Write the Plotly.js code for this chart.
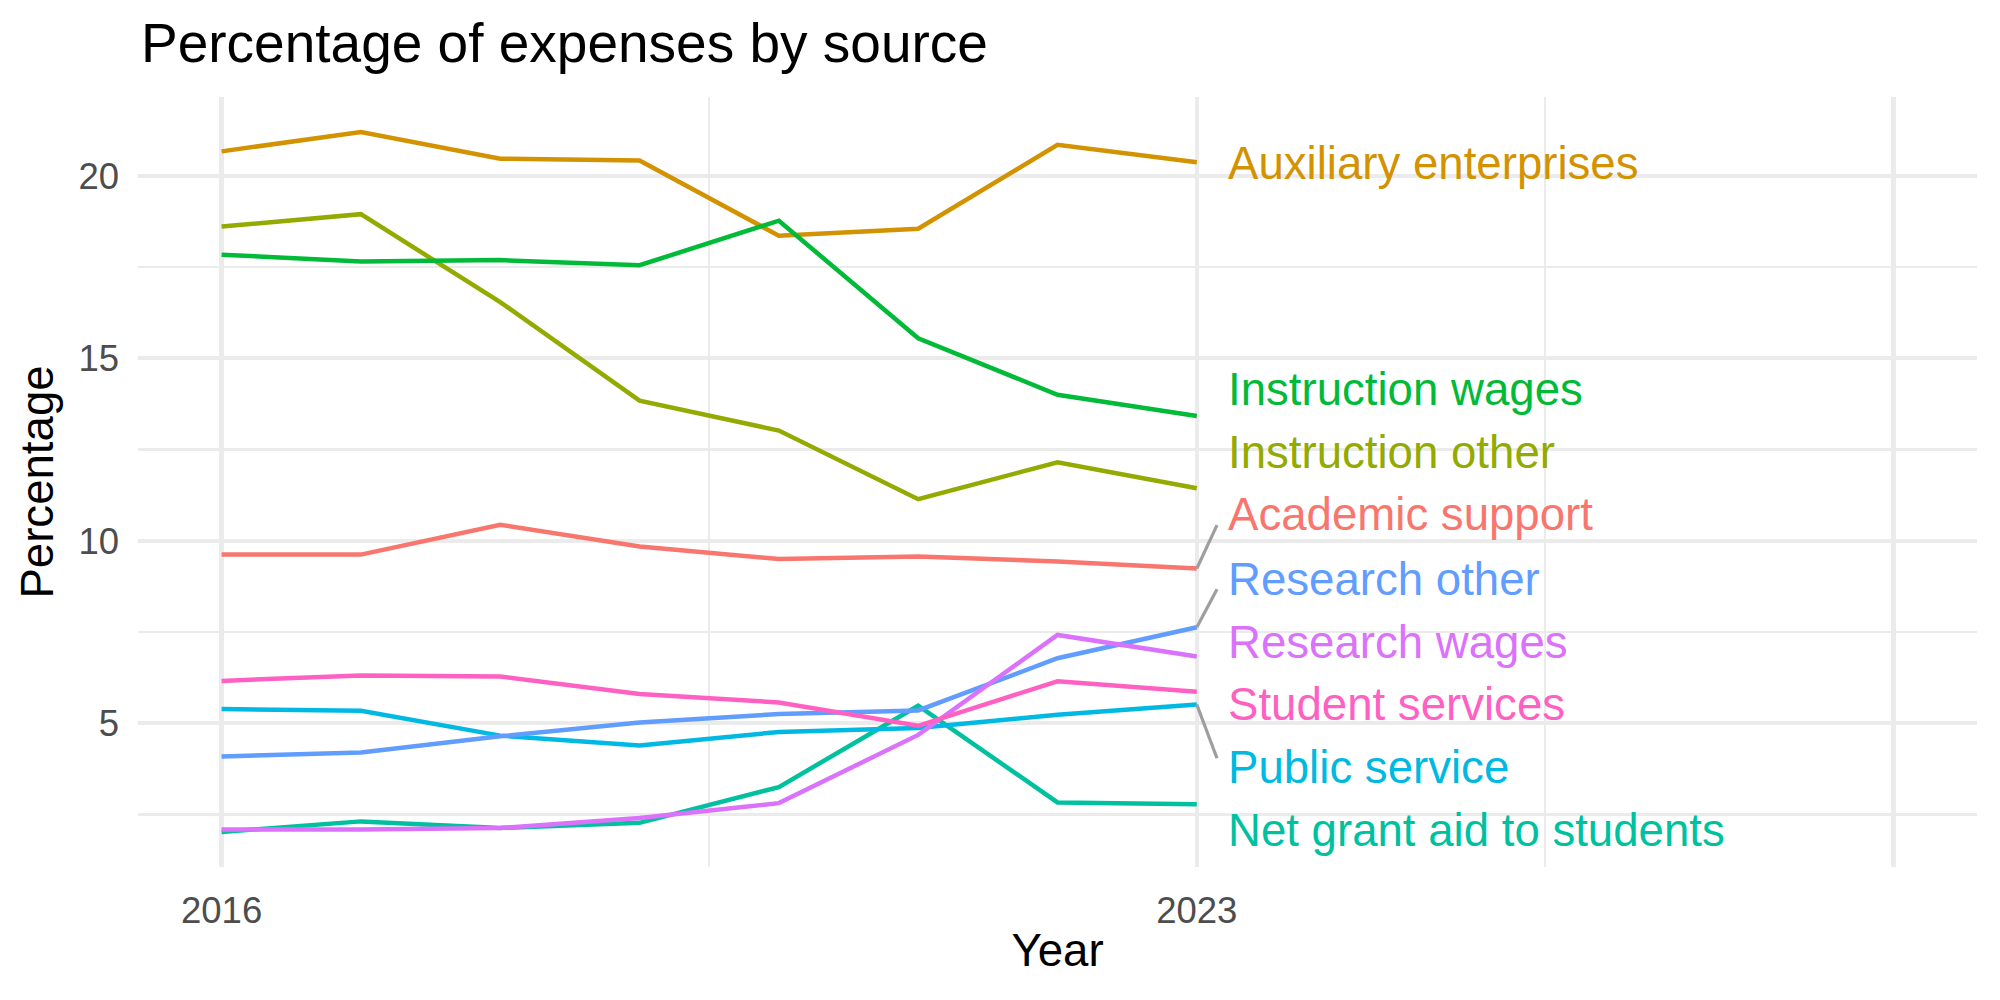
<!DOCTYPE html>
<html>
<head>
<meta charset="utf-8">
<script src="https://cdn.plot.ly/plotly-3.0.1.min.js"></script>
<style>
  html, body { margin: 0; padding: 0; background: #fff; }
  #chart { width: 2000px; height: 1000px; }
</style>
</head>
<body>
<div id="chart"></div>
<script>
// ---- data ----
const years = [2016, 2017, 2018, 2019, 2020, 2021, 2022, 2023];

const seriesNames = [
  "Academic support", "Auxiliary enterprises", "Instruction other", "Instruction wages",
  "Net grant aid to students", "Public service", "Research other", "Research wages", "Student services"
];

const academicSupport      = [9.62, 9.62, 10.44, 9.84, 9.50, 9.57, 9.43, 9.24];
const auxiliaryEnterprises = [20.67, 21.20, 20.47, 20.42, 18.36, 18.55, 20.85, 20.37];
const instructionOther     = [18.61, 18.95, 16.54, 13.84, 13.02, 11.14, 12.15, 11.44];
const instructionWages     = [17.84, 17.65, 17.69, 17.55, 18.77, 15.55, 14.00, 13.42];
const netGrantAid          = [2.02, 2.31, 2.13, 2.27, 3.25, 5.48, 2.83, 2.78];
const publicService        = [5.39, 5.34, 4.66, 4.39, 4.76, 4.87, 5.23, 5.51];
const researchOther        = [4.09, 4.20, 4.64, 5.02, 5.25, 5.35, 6.78, 7.63];
const researchWages        = [2.09, 2.09, 2.13, 2.40, 2.81, 4.68, 7.42, 6.83];
const studentServices      = [6.16, 6.31, 6.28, 5.80, 5.57, 4.93, 6.15, 5.86];

// repelled label positions (y, in percentage units) and whether a leader segment is drawn
const labelY      = [10.71, 20.35, 12.42, 14.14, 2.06, 3.79, 8.95, 7.22, 5.52];
const showSegment = [true, false, false, false, false, true, true, false, false];

const xTickVals  = [2016, 2023, 2028];
const xTickText  = ["2016", "2023", ""];
const xMinorVals = [2019.5, 2025.5];
const yTickVals  = [5, 10, 15, 20];
const yMinorVals = [2.5, 7.5, 12.5, 17.5];

// ---- styling ----
const colors = ["#F8766D", "#D39200", "#93AA00", "#00BA38", "#00C19F", "#00B9E3", "#619CFF", "#DB72FB", "#FF61C3"];
const FONT = "Liberation Sans, Arial, Helvetica, sans-serif";
const GRID = "#EBEBEB";

const values = [academicSupport, auxiliaryEnterprises, instructionOther, instructionWages,
                netGrantAid, publicService, researchOther, researchWages, studentServices];

const traces = seriesNames.map((name, i) => ({
  type: "scatter",
  mode: "lines",
  name: name,
  x: years,
  y: values[i],
  line: { color: colors[i], width: 4.5 },
  showlegend: false,
  hoverinfo: "x+y+name"
}));

const lastYear = years[years.length - 1];
const labelX = lastYear + 0.21;
const segEndX = lastYear + 0.145;

const annotations = seriesNames.map((name, i) => ({
  x: labelX, y: labelY[i], xref: "x", yref: "y",
  text: name, showarrow: false,
  xanchor: "left", yanchor: "middle",
  font: { family: FONT, size: 45.6, color: colors[i] }
}));

const shapes = [];
seriesNames.forEach((name, i) => {
  if (!showSegment[i]) return;
  const yEnd = values[i][values[i].length - 1];
  const up = labelY[i] > yEnd;
  shapes.push({
    type: "line", xref: "x", yref: "y",
    x0: lastYear, y0: yEnd,
    x1: segEndX, y1: labelY[i] + (up ? -0.28 : 0.25),
    line: { color: "#9E9E9E", width: 3.2 },
    layer: "above"
  });
});

const layout = {
  width: 2000, height: 1000,
  paper_bgcolor: "#FFFFFF", plot_bgcolor: "#FFFFFF",
  margin: { l: 138, r: 23, t: 97, b: 133, pad: 0 },
  font: { family: FONT, color: "#000" },
  title: {
    text: "Percentage of expenses by source",
    font: { family: FONT, size: 55, color: "#000" },
    xref: "container", x: 0.0705, xanchor: "left",
    yref: "container", y: 0.957, yanchor: "middle"
  },
  xaxis: {
    range: [2015.4, 2028.6],
    tickmode: "array", tickvals: xTickVals, ticktext: xTickText,
    ticks: "", showline: false, zeroline: false,
    showgrid: true, gridcolor: GRID, gridwidth: 4.2,
    minor: { tickmode: "array", tickvals: xMinorVals, showgrid: true, gridcolor: GRID, gridwidth: 2.1, ticks: "" },
    tickfont: { family: FONT, size: 36.5, color: "#4D4D4D" },
    ticklabelstandoff: 18,
    automargin: false,
    title: { text: "Year", font: { family: FONT, size: 45.6, color: "#000" }, standoff: 4 }
  },
  yaxis: {
    range: [1.06, 22.16],
    tickmode: "array", tickvals: yTickVals,
    ticks: "", showline: false, zeroline: false,
    showgrid: true, gridcolor: GRID, gridwidth: 4.2,
    minor: { tickmode: "array", tickvals: yMinorVals, showgrid: true, gridcolor: GRID, gridwidth: 2.1, ticks: "" },
    tickfont: { family: FONT, size: 36.5, color: "#4D4D4D" },
    ticklabelstandoff: 18,
    automargin: false,
    title: { text: "Percentage", font: { family: FONT, size: 45.6, color: "#000" }, standoff: 10 }
  },
  annotations: annotations,
  shapes: shapes,
  showlegend: false
};

Plotly.newPlot("chart", traces, layout, { staticPlot: true, displayModeBar: false });
</script>
</body>
</html>
